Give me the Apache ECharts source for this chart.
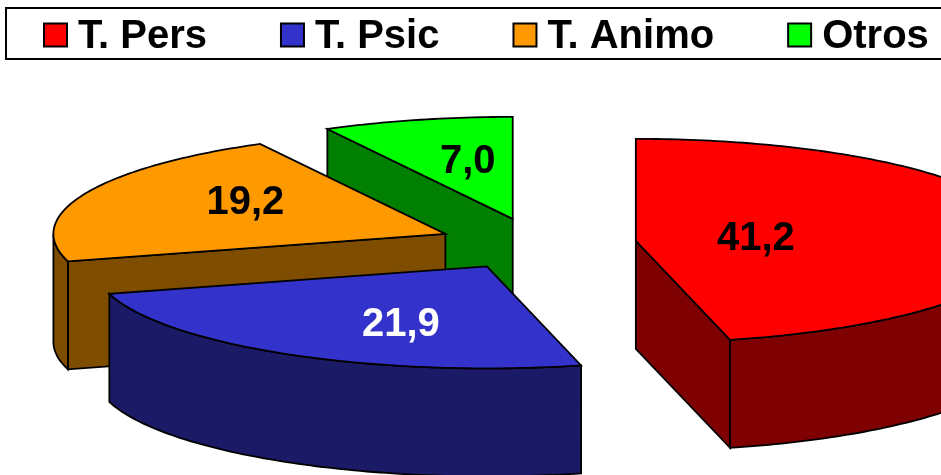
<!DOCTYPE html>
<html>
<head>
<meta charset="utf-8">
<style>html,body{margin:0;padding:0;background:#fff}#chart{width:941px;height:475px}</style>
<script src="https://cdn.jsdelivr.net/npm/echarts@6/dist/echarts.min.js"></script>
</head>
<body>
<div id="chart"></div>
<script>
const categories = ['T. Pers', 'T. Psic', 'T. Animo', 'Otros'];
const values = [41.2, 21.9, 19.2, 7.0];
const valueLabels = ['41,2', '21,9', '19,2', '7,0'];

const topColors = ['#FF0000', '#3333CC', '#FF9900', '#00FF00'];
const sideColors = ['#7F0000', '#1A1A66', '#7F4D00', '#007F00'];
const labelColors = ['#000', '#fff', '#000', '#000'];
const drawOrder = [4, 3, 2, 1];
const labelShift = [[120, -2], [-86, 59], [-200, -31], [-45, -57]];

const CX = 537, CY = 244, RX = 392, RY = 102, DEPTH = 108, EXPLODE = 0.254;
const FONT = '"Liberation Sans", Arial, sans-serif';
const rad = d => d * Math.PI / 180;
const total = values.reduce((a, b) => a + b, 0);
let acc = 0;
const startFractions = values.map(v => { const s = acc / total; acc += v; return s; });

function arc(apex, from, to) {
  const pts = [], n = Math.max(1, Math.ceil(Math.abs(to - from)));
  for (let k = 0; k <= n; k++) {
    const t = rad(from + (to - from) * k / n);
    pts.push([apex[0] + RX * Math.sin(t), apex[1] - RY * Math.cos(t)]);
  }
  return pts;
}
const down = p => [p[0], p[1] + DEPTH];
const lineStyle = { stroke: '#000', lineWidth: 1.8, lineJoin: 'miter' };

function renderSlice(index) {
  return function (params, api) {
    const a0 = api.value(0) * 360;
    const a1 = a0 + api.value(1) / total * 360;
    const mid = rad((a0 + a1) / 2);
    const apex = [CX + EXPLODE * RX * Math.sin(mid), CY - EXPLODE * RY * Math.cos(mid)];
    const children = [];
    const wall = pts => children.push({
      type: 'polygon', shape: { points: pts },
      style: Object.assign({ fill: sideColors[index] }, lineStyle)
    });
    const rim = (t) => arc(apex, t, t)[0];
    if (Math.sin(rad(a0)) < -1e-6) {
      const r = rim(a0);
      wall([apex, r, down(r), down(apex)]);
    }
    if (Math.sin(rad(a1)) > 1e-6) {
      const r = rim(a1);
      wall([apex, r, down(r), down(apex)]);
    }
    const f0 = Math.max(a0, 90), f1 = Math.min(a1, 270);
    if (f1 > f0) {
      const top = arc(apex, f0, f1);
      wall(top.concat(top.map(down).reverse()));
    }
    children.push({
      type: 'polygon', shape: { points: [apex].concat(arc(apex, a0, a1)) },
      style: Object.assign({ fill: topColors[index] }, lineStyle)
    });
    children.push({
      type: 'text',
      style: {
        x: apex[0] + labelShift[index][0], y: apex[1] + labelShift[index][1],
        text: valueLabels[index], fill: labelColors[index],
        font: 'bold 40px ' + FONT, align: 'center', verticalAlign: 'middle'
      }
    });
    return { type: 'group', children };
  };
}

const chart = echarts.init(document.getElementById('chart'), null, { renderer: 'canvas' });
chart.setOption({
  animation: false,
  backgroundColor: '#fff',
  legend: {
    data: categories,
    icon: 'rect',
    left: 6, top: 8,
    width: 1000,
    orient: 'horizontal',
    padding: [9, 14, 2, 37],
    itemWidth: 23, itemHeight: 23, itemGap: 73,
    borderColor: '#000', borderWidth: 2,
    selectedMode: false,
    itemStyle: { borderColor: '#000', borderWidth: 2 },
    formatter: '{t|{name}}',
    textStyle: {
      color: '#000', fontFamily: FONT, fontWeight: 'bold', fontSize: 40,
      rich: { t: { color: '#000', fontFamily: FONT, fontWeight: 'bold', fontSize: 40, padding: [4, 0, 0, 6] } }
    }
  },
  series: categories.map((name, i) => ({
    type: 'custom',
    name,
    coordinateSystem: 'none',
    z: drawOrder[i],
    silent: true,
    itemStyle: { color: topColors[i] },
    renderItem: renderSlice(i),
    data: [[startFractions[i], values[i]]]
  }))
});
</script>
</body>
</html>
